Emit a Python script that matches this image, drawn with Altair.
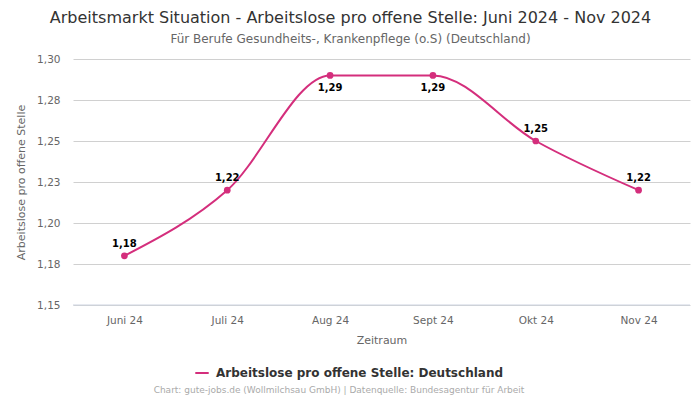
import altair as alt
import pandas as pd

months = ["Juni 24", "Juli 24", "Aug 24", "Sept 24", "Okt 24", "Nov 24"]
values = [1.18, 1.22, 1.29, 1.29, 1.25, 1.22]
y_ticks = [1.15, 1.175, 1.20, 1.225, 1.25, 1.275, 1.30]
series_name = "Arbeitslose pro offene Stelle: Deutschland"
footer_text = "Chart: gute-jobs.de (Wollmilchsau GmbH) | Datenquelle: Bundesagentur für Arbeit"

df = pd.DataFrame({"Monat": months, "Wert": values, "Serie": [series_name] * len(months)})

FONT = "DejaVu Sans"
COLOR = "#d42e7c"

x_enc = alt.X("Monat:N", sort=months,
              scale=alt.Scale(type="point", padding=0.5),
              axis=alt.Axis(title="Zeitraum", labelAngle=0, labelColor="#666", titleColor="#666",
                            labelFontSize=10.5, titleFontSize=11, titleFontWeight="normal",
                            domain=False, ticks=False, labelPadding=10, titlePadding=9,
                            labelFont=FONT, titleFont=FONT))
x_plain = alt.X("Monat:N", sort=months)
y_enc = alt.Y("Wert:Q", scale=alt.Scale(domain=[1.15, 1.30], nice=False, zero=False),
              axis=alt.Axis(title="Arbeitslose pro offene Stelle", values=y_ticks,
                            labelExpr="replace(format(datum.value + 1e-9, '.2f'), '.', ',')",
                            labelColor="#666", titleColor="#666", labelFontSize=10.5, titleFontSize=11,
                            titleFontWeight="normal", domain=False, ticks=False, labelPadding=13,
                            gridColor="#d0d0d0", labelFont=FONT, titleFont=FONT, titlePadding=10))

base = alt.Chart(df)

line = base.mark_line(interpolate="monotone", strokeWidth=2, color=COLOR).encode(
    x=x_enc, y=y_enc,
    color=alt.Color("Serie:N", scale=alt.Scale(range=[COLOR]),
                    legend=alt.Legend(title=None, orient="none", legendX=121, legendY=306,
                                      labelFont=FONT, labelFontSize=12, labelFontWeight="bold",
                                      labelColor="#333", symbolType="stroke", symbolStrokeWidth=2,
                                      symbolSize=180, labelOffset=6, labelLimit=400)))
points = base.mark_circle(size=45, color=COLOR, opacity=1).encode(x=x_plain, y="Wert:Q")

lbl = base.transform_calculate(lab="replace(format(datum.Wert, '.2f'), '.', ',')")
labels_above = lbl.transform_filter("datum.Wert < 1.29").mark_text(
    dy=-12, font=FONT, fontSize=10, fontWeight="bold", color="#000").encode(
    x=x_plain, y="Wert:Q", text="lab:N")
labels_below = lbl.transform_filter("datum.Wert >= 1.29").mark_text(
    dy=13, font=FONT, fontSize=10, fontWeight="bold", color="#000").encode(
    x=x_plain, y="Wert:Q", text="lab:N")

baseline = alt.Chart(pd.DataFrame({"y": [1.15]})).mark_rule(color="#ccd3e0", strokeWidth=1).encode(
    y="y:Q")

footer = alt.Chart(pd.DataFrame({"t": [footer_text]})).mark_text(
    font=FONT, fontSize=9, color="#aaa").encode(
    text="t:N", x=alt.value(266), y=alt.value(331))

chart = alt.layer(line, baseline, points, labels_above, labels_below, footer).properties(
    width=617, height=246,
    autosize=alt.AutoSizeParams(type="none"),
    padding={"left": 65, "top": 51, "right": 2, "bottom": 91},
    title=alt.TitleParams(
        text="Arbeitsmarkt Situation - Arbeitslose pro offene Stelle: Juni 2024 - Nov 2024",
        subtitle="Für Berufe Gesundheits-, Krankenpflege (o.S) (Deutschland)",
        font=FONT, fontSize=16, fontWeight="normal", color="#333",
        subtitleFont=FONT, subtitleFontSize=12, subtitleColor="#666",
        anchor="middle", dx=-31, offset=9, subtitlePadding=8)
).configure_view(stroke=None)

chart.save("out.html", embed_options={"renderer": "svg", "actions": False})
